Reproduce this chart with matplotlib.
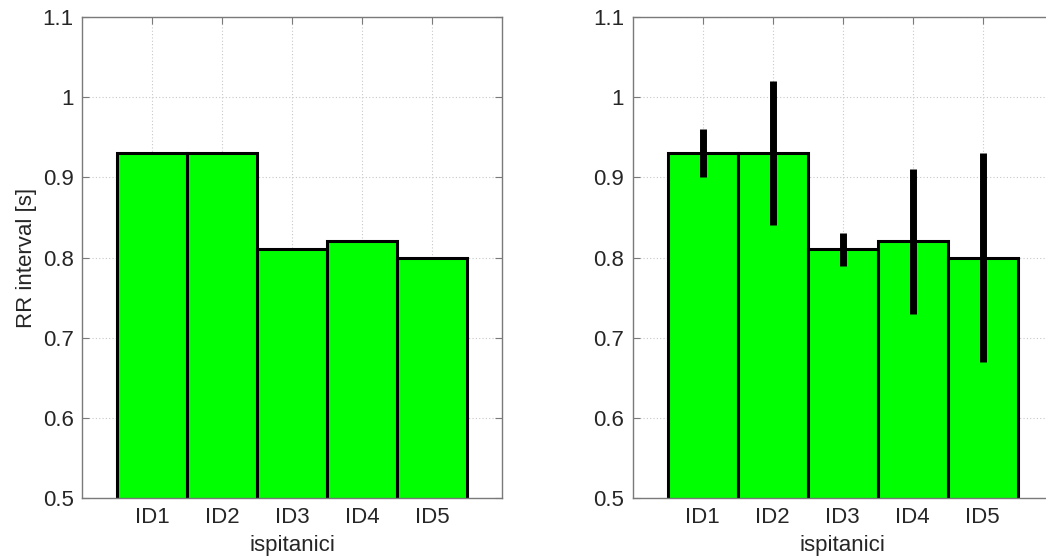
import matplotlib
matplotlib.use("Agg")
import matplotlib.pyplot as plt
import numpy as np

categories = ["ID1", "ID2", "ID3", "ID4", "ID5"]
rr_means = [0.93, 0.93, 0.81, 0.82, 0.80]
rr_low = [0.90, 0.84, 0.79, 0.73, 0.67]
rr_high = [0.96, 1.02, 0.83, 0.91, 0.93]
yticks = [0.5, 0.6, 0.7, 0.8, 0.9, 1.0, 1.1]
ytick_labels = ["0.5", "0.6", "0.7", "0.8", "0.9", "1", "1.1"]

plt.rcParams['font.family'] = ['Liberation Sans', 'DejaVu Sans']

fig = plt.figure(figsize=(10.46, 5.56), dpi=100)
W, H = 1046, 556
ax_w = 420 / W
ax_b = (H - 498.3) / H
ax_h = 481.6 / H
ax1 = fig.add_axes([82 / W, ax_b, ax_w, ax_h])
ax2 = fig.add_axes([632.5 / W, ax_b, ax_w, ax_h])

x = np.arange(1, len(categories) + 1)
spine_col = "#7a7a7a"
text_col = "#262626"
fs = 16

for ax in (ax1, ax2):
    ax.bar(x, rr_means, width=1.0, color="#00ff00", edgecolor="black",
           linewidth=2.2, zorder=2)
    ax.set_xlim(0, 6)
    ax.set_ylim(0.5, 1.1)
    ax.set_xticks(x)
    ax.set_xticklabels(categories)
    ax.set_yticks(yticks)
    ax.set_yticklabels(ytick_labels)
    ax.grid(True, linestyle=(0, (1, 2)), color="#c8c8c8", linewidth=0.8, zorder=0)
    ax.set_axisbelow(True)
    ax.tick_params(direction="in", length=5, width=0.8, color=spine_col,
                   labelsize=fs, labelcolor=text_col, top=True, right=True,
                   pad=6)
    for s in ax.spines.values():
        s.set_color(spine_col)
        s.set_linewidth(1.0)
    ax.set_xlabel("ispitanici", fontsize=fs, color=text_col, labelpad=5)

ax1.set_ylabel("RR interval [s]", fontsize=fs, color=text_col, labelpad=4)

means = np.array(rr_means)
yerr = [means - np.array(rr_low), np.array(rr_high) - means]
ax2.errorbar(x, means, yerr=yerr, fmt="none", ecolor="black",
             elinewidth=5, capsize=0, zorder=3)

fig.savefig("out.png", dpi=100)
